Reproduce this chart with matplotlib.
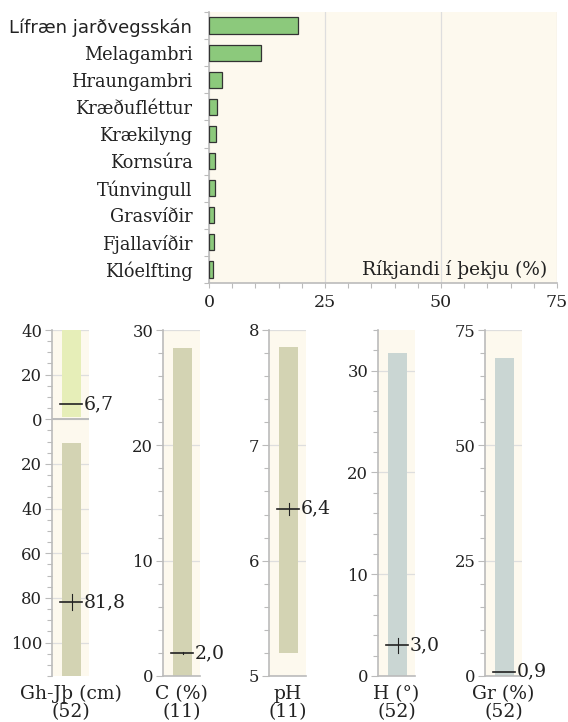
import matplotlib.pyplot as plt
from matplotlib.ticker import MultipleLocator, FixedLocator

# top chart data
species = ["Lífræn jarðvegsskán", "Melagambri", "Hraungambri", "Kræðufléttur",
           "Krækilyng", "Kornsúra", "Túnvingull", "Grasvíðir", "Fjallavíðir", "Klóelfting"]
cover = [19.2, 11.2, 2.8, 1.7, 1.5, 1.2, 1.2, 1.1, 1.0, 0.9]

# bottom panels data
depth_top = [1.0, 40.0]      # Gh (upper half), cm
depth_top_mean = 6.7
depth_bot = [10.7, 115.0]    # Jþ (lower half), cm
depth_bot_mean = 81.8
depth_bot_err = 3.5

c_range = [0.0, 28.4]
c_mean, c_err = 2.0, 0.1
ph_range = [5.2, 7.85]
ph_mean, ph_err = 6.45, 0.05
h_range = [0.0, 31.7]
h_mean, h_err = 3.0, 0.7
gr_range = [0.0, 68.9]
gr_mean = 0.9

panel_labels = ["Gh-Jþ (cm)\n(52)", "C (%)\n(11)", "pH\n(11)", "H (°)\n(52)", "Gr (%)\n(52)"]

BG = "#fdf9ee"
GRID = "#dedede"
SPINE = "#bbbbbb"
TXT = "#222222"
OLIVE = "#d3d3b3"
LIME = "#e6eeb8"
BLUEGRAY = "#cad6d3"
SERIF = "DejaVu Serif"

plt.rcParams["font.family"] = SERIF

fig = plt.figure(figsize=(5.68, 7.22), dpi=100)

# ---- top bar chart
ax = fig.add_axes([209 / 568, 1 - 283 / 722, 348 / 568, 271 / 722])
ax.set_facecolor(BG)
ypos = list(range(len(species)))
ax.barh(ypos, cover, height=0.6, color="#8cc97c", edgecolor="#333333", linewidth=0.9, zorder=3)
ax.set_xlim(0, 75)
ax.set_ylim(len(species) - 0.5, -0.5)
ax.set_yticks(ypos)
ax.set_yticklabels(species, fontsize=12.8, color=TXT)
ax.get_yticklabels()[0].set_family("DejaVu Sans")
ax.get_yticklabels()[0].set_fontsize(13)
ax.tick_params(axis="y", length=0, pad=12)
ax.yaxis.set_minor_locator(FixedLocator([i - 0.5 for i in range(len(species) + 1)]))
ax.tick_params(axis="y", which="minor", length=3.6, color=SPINE, width=0.8)
ax.set_xticks([0, 25, 50, 75])
ax.xaxis.set_minor_locator(MultipleLocator(5))
ax.tick_params(axis="x", which="both", length=3.6, color=SPINE, width=0.8, labelsize=12.5,
               labelcolor=TXT, pad=4)
ax.grid(axis="x", which="major", color=GRID, linewidth=0.9, zorder=0)
for s in ["top", "right"]:
    ax.spines[s].set_visible(False)
for s in ["left", "bottom"]:
    ax.spines[s].set_color(SPINE)
    ax.spines[s].set_linewidth(1.2)
ax.text(72.8, 9, "Ríkjandi í þekju (%)", ha="right", va="center", fontsize=13.4, color=TXT)

# ---- bottom panels
bottom = 1 - 676 / 722
height = 346 / 722
lefts = [52, 163, 269, 378, 485]
pw = 37 / 568
bx, bw = 0.53, 0.51


def style_panel(a, bottom_spine=True):
    a.set_facecolor(BG)
    a.set_xlim(0, 1)
    a.set_xticks([])
    for s in ["top", "right"]:
        a.spines[s].set_visible(False)
    a.spines["left"].set_color(SPINE)
    a.spines["left"].set_linewidth(1.2)
    if bottom_spine:
        a.spines["bottom"].set_color(SPINE)
        a.spines["bottom"].set_linewidth(1.2)
    else:
        a.spines["bottom"].set_visible(False)
    a.tick_params(axis="y", which="both", color=SPINE, width=0.8, labelsize=11.8,
                  labelcolor=TXT, pad=2)
    a.tick_params(axis="y", which="major", length=5)
    a.tick_params(axis="y", which="minor", length=3.6)
    a.grid(axis="y", which="major", color=GRID, linewidth=0.9, zorder=0)


def mean_mark(a, y, label, err=None):
    a.plot([0.22, 0.82], [y, y], color="#222222", linewidth=1.2, zorder=4)
    if err:
        a.plot([bx, bx], [y - err, y + err], color="#222222", linewidth=0.8, zorder=4)
    a.text(0.86, y, label, ha="left", va="center", fontsize=13.6, color=TXT,
           transform=a.transData, clip_on=False)


# panel 1: depth, upper part drawn as negative
a1 = fig.add_axes([lefts[0] / 568, bottom, pw, height])
style_panel(a1, bottom_spine=False)
a1.set_ylim(115, -40)
a1.bar(bx, depth_top[1] - depth_top[0], bottom=-depth_top[1], width=bw, color=LIME, zorder=2)
a1.bar(bx, depth_bot[1] - depth_bot[0], bottom=depth_bot[0], width=bw, color=OLIVE, zorder=2)
a1.set_yticks([-40, -20, 0, 20, 40, 60, 80, 100])
a1.set_yticklabels(["40", "20", "0", "20", "40", "60", "80", "100"])
a1.yaxis.set_minor_locator(MultipleLocator(5))
a1.axhline(0, color=SPINE, linewidth=1.4, zorder=3)
mean_mark(a1, -depth_top_mean, "6,7")
mean_mark(a1, depth_bot_mean, "81,8", depth_bot_err)

# panel 2: C
a2 = fig.add_axes([lefts[1] / 568, bottom, pw, height])
style_panel(a2)
a2.set_ylim(0, 30)
a2.bar(bx, c_range[1] - c_range[0], bottom=c_range[0], width=bw, color=OLIVE, zorder=2)
a2.set_yticks([0, 10, 20, 30])
a2.yaxis.set_minor_locator(MultipleLocator(2))
mean_mark(a2, c_mean, "2,0", c_err)

# panel 3: pH
a3 = fig.add_axes([lefts[2] / 568, bottom, pw, height])
style_panel(a3)
a3.set_ylim(5, 8)
a3.bar(bx, ph_range[1] - ph_range[0], bottom=ph_range[0], width=bw, color=OLIVE, zorder=2)
a3.set_yticks([5, 6, 7, 8])
a3.yaxis.set_minor_locator(MultipleLocator(0.2))
mean_mark(a3, ph_mean, "6,4", ph_err)

# panel 4: H
a4 = fig.add_axes([lefts[3] / 568, bottom, pw, height])
style_panel(a4)
a4.set_ylim(0, 34)
a4.bar(bx, h_range[1] - h_range[0], bottom=h_range[0], width=bw, color=BLUEGRAY, zorder=2)
a4.set_yticks([0, 10, 20, 30])
a4.yaxis.set_minor_locator(MultipleLocator(2))
mean_mark(a4, h_mean, "3,0", h_err)

# panel 5: Gr
a5 = fig.add_axes([lefts[4] / 568, bottom, pw, height])
style_panel(a5)
a5.set_ylim(0, 75)
a5.bar(bx, gr_range[1] - gr_range[0], bottom=gr_range[0], width=bw, color=BLUEGRAY, zorder=2)
a5.set_yticks([0, 25, 50, 75])
a5.yaxis.set_minor_locator(MultipleLocator(5))
mean_mark(a5, gr_mean, "0,9")

for a, lab in zip([a1, a2, a3, a4, a5], panel_labels):
    a.text(0.5, -0.026, lab, transform=a.transAxes, ha="center", va="top",
           fontsize=13.5, color=TXT, linespacing=1.0)

fig.savefig("out.png", dpi=100)
